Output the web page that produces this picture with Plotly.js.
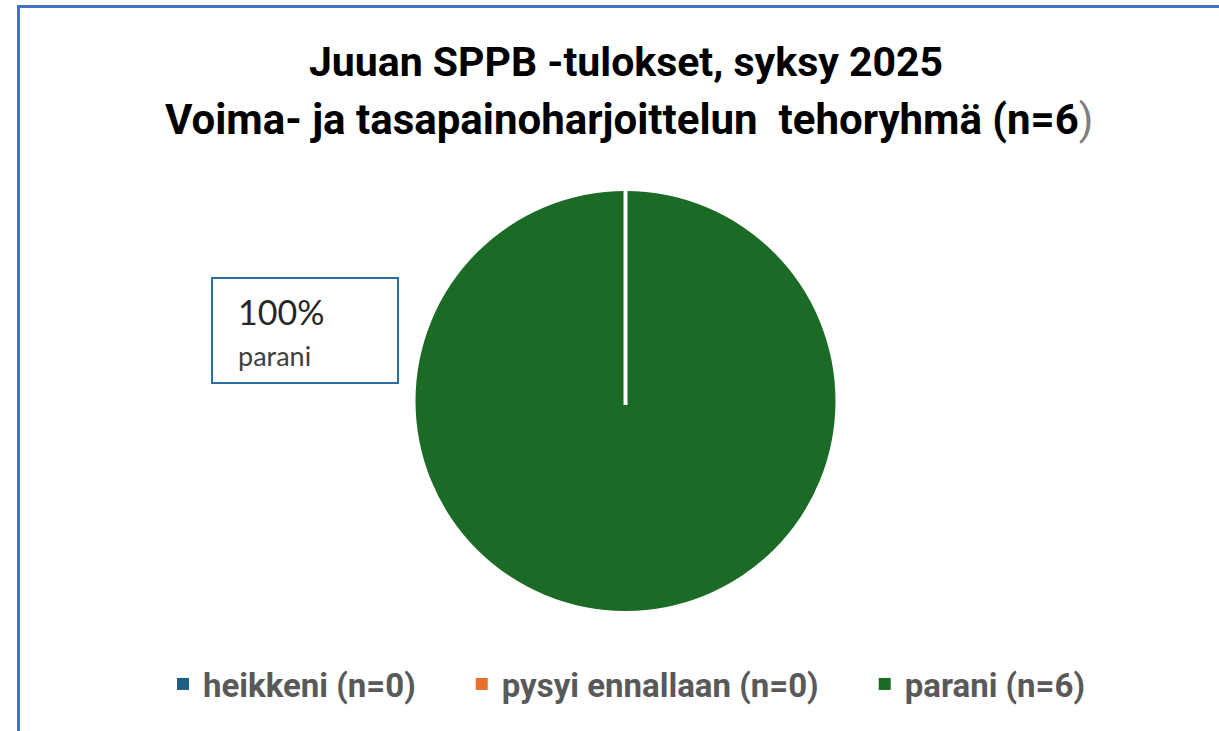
<!DOCTYPE html>
<html>
<head>
<meta charset="utf-8">
<script src="https://cdn.plot.ly/plotly-3.0.1.min.js"></script>
<style>
  html, body { margin: 0; padding: 0; background: #ffffff; }
  #frame { position: absolute; left: 17px; top: 5px; width: 1240px; height: 760px;
           border-top: 3px solid #4472C4; border-left: 3px solid #4472C4; box-sizing: border-box; pointer-events: none; z-index: 5; }
  #chart { width: 1219px; height: 731px; }
</style>
</head>
<body>
<div id="frame"></div>
<div id="chart"></div>
<script>
const categories = ['heikkeni (n=0)', 'pysyi ennallaan (n=0)', 'parani (n=6)'];
const shortNames = ['heikkeni', 'pysyi ennallaan', 'parani'];
const counts = [0, 0, 6];
const colors = ['#1F5F86', '#E8702A', '#1B6B27'];
const titleLine1 = 'Juuan SPPB -tulokset, syksy 2025';
const titleLine2 = 'Voima- ja tasapainoharjoittelun  tehoryhmä (n=6';

const total = counts.reduce((a, b) => a + b, 0);
const mainIdx = counts.indexOf(Math.max(...counts));
const pct = Math.round(100 * counts[mainIdx] / total) + '%';

const M = {l: 32, r: 0, t: 191, b: 120};
const W = 1219, H = 731;
const pw = W - M.l - M.r, ph = H - M.t - M.b;
const px = x => (x - M.l) / pw;
const py = y => (H - M.b - y) / ph;

// extra spacing between legend entries (as in the original legend)
const pad = '\u00a0'.repeat(5);
const legendLabels = categories.map((c, i) => i < categories.length - 1 ? c + pad : c);

const trace = {
  type: 'pie',
  labels: legendLabels,
  values: counts,
  marker: {colors: colors, line: {color: '#ffffff', width: 0}},
  sort: false,
  direction: 'clockwise',
  rotation: 0,
  textinfo: 'none',
  hoverinfo: 'label+value+percent',
  domain: {x: [0, 1], y: [0, 1]}
};

const font = "Roboto, 'Open Sans', Arial, sans-serif";

const layout = {
  width: W, height: H,
  margin: M,
  paper_bgcolor: '#ffffff',
  showlegend: true,
  title: {
    text: titleLine1,
    font: {family: font, size: 41, color: '#000000', weight: 'bold'},
    x: px(626), xanchor: 'center', xref: 'paper',
    y: 1 - 62 / H, yanchor: 'middle', yref: 'container'
  },
  legend: {
    orientation: 'h',
    x: px(163), xanchor: 'left',
    y: py(684), yanchor: 'middle',
    font: {family: font, size: 33, color: '#595959', weight: 'bold'},
    traceorder: 'normal',
    itemclick: false
  },
  annotations: [
    {text: titleLine2 + '<span style="color:#7f7f7f;font-weight:normal">)</span>', xref: 'paper', yref: 'paper',
     x: px(629), y: py(120), xanchor: 'center', yanchor: 'middle', showarrow: false,
     font: {family: font, size: 42, color: '#000000', weight: 'bold'}},
    {text: ' ', xref: 'paper', yref: 'paper', x: px(305), y: py(330.5),
     xanchor: 'center', yanchor: 'middle', showarrow: false,
     width: 184, height: 103, borderpad: 0, bordercolor: '#2E6DA4', borderwidth: 2, bgcolor: '#ffffff'},
    {text: pct, xref: 'paper', yref: 'paper', x: px(236), y: py(311),
     xanchor: 'left', yanchor: 'middle', showarrow: false,
     font: {family: "Lato, 'Open Sans', sans-serif", size: 34, color: '#262626'}},
    {text: shortNames[mainIdx], xref: 'paper', yref: 'paper', x: px(236), y: py(355),
     xanchor: 'left', yanchor: 'middle', showarrow: false,
     font: {family: "Lato, 'Open Sans', sans-serif", size: 27, color: '#404040'}}
  ],
  shapes: [
    {type: 'line', xref: 'paper', yref: 'paper', x0: 0.5, x1: 0.5, y0: py(405), y1: 1.0,
     line: {color: '#ffffff', width: 4}}
  ]
};

Plotly.newPlot('chart', [trace], layout, {displayModeBar: false});
</script>
</body>
</html>
